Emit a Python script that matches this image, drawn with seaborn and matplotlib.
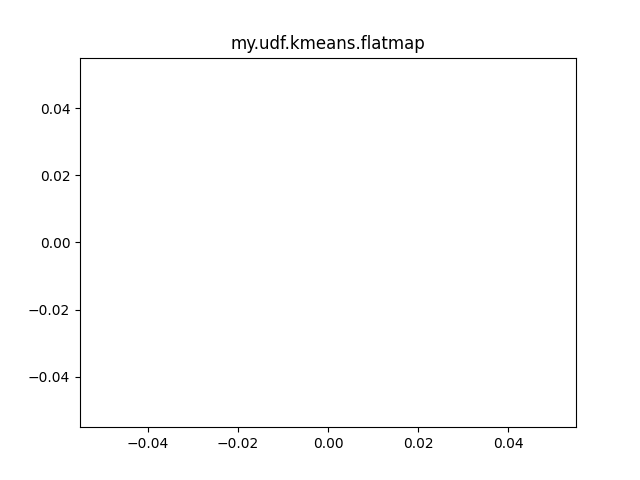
import matplotlib
matplotlib.use("Agg")
import matplotlib.pyplot as plt
import seaborn as sns

# one sample at the origin; a single-point line draws nothing visible
x_values = [0.0]
y_values = [0.0]
title = "my.udf.kmeans.flatmap"

fig, ax = plt.subplots(figsize=(6.4, 4.8), dpi=100)
sns.lineplot(x=x_values, y=y_values, ax=ax)
ax.set_title(title)
fig.savefig("out.png")
